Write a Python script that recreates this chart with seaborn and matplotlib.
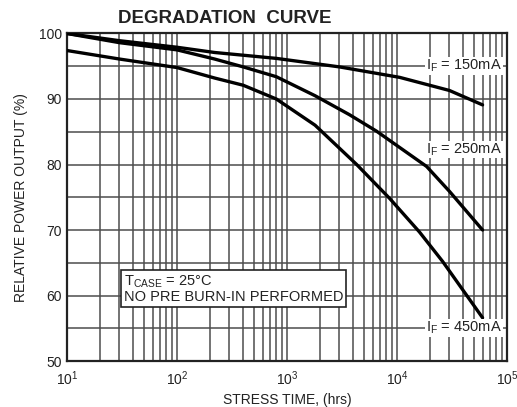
import numpy as np
import pandas as pd
import seaborn as sns
import matplotlib.pyplot as plt
from matplotlib.ticker import LogLocator, MultipleLocator, NullFormatter

# values (stress time in hrs, relative output in %)
hrs_150 = [10, 30, 100, 220, 800, 3000, 10600, 30000, 60000]
pct_150 = [100.0, 98.9, 97.9, 97.1, 96.2, 94.9, 93.3, 91.3, 89.1]

hrs_250 = [10, 30, 100, 220, 400, 800, 1800, 3700, 6500, 18600, 30000, 60000]
pct_250 = [100.0, 98.6, 97.5, 96.1, 94.9, 93.4, 90.5, 87.6, 85.1, 79.7, 75.9, 70.0]

hrs_450 = [10, 30, 100, 220, 400, 800, 1800, 4300, 8600, 16000, 26000, 60000]
pct_450 = [97.4, 96.1, 94.8, 93.2, 92.1, 90.0, 86.0, 80.0, 74.8, 69.7, 65.2, 56.6]

currents = ["150mA", "250mA", "450mA"]
label_y = [95, 82.3, 55]

df = pd.concat([
    pd.DataFrame({"hrs": hrs_150, "pct": pct_150, "IF": "150mA"}),
    pd.DataFrame({"hrs": hrs_250, "pct": pct_250, "IF": "250mA"}),
    pd.DataFrame({"hrs": hrs_450, "pct": pct_450, "IF": "450mA"}),
])

sns.set_style("white")
plt.rcParams['font.family'] = ['Liberation Sans', 'DejaVu Sans']
plt.rcParams['mathtext.fontset'] = 'custom'
plt.rcParams['mathtext.rm'] = 'Liberation Sans'
plt.rcParams['mathtext.it'] = 'Liberation Sans'

fig = plt.figure(figsize=(5.17, 4.07), dpi=100)
ax = fig.add_axes([0.1296, 0.113, 0.851, 0.8047])

sns.lineplot(data=df, x="hrs", y="pct", hue="IF", palette=["black"] * 3,
             linewidth=2.4, legend=False, ax=ax, zorder=3)

ax.set_xscale("log")
ax.set_xlim(10, 1e5)
ax.set_ylim(50, 100)
ax.xaxis.set_major_locator(LogLocator(base=10, numticks=10))
ax.xaxis.set_minor_locator(LogLocator(base=10, subs=np.arange(2, 10), numticks=20))
ax.xaxis.set_minor_formatter(NullFormatter())
ax.yaxis.set_major_locator(MultipleLocator(10))
ax.yaxis.set_minor_locator(MultipleLocator(5))
ax.grid(True, which="both", color="#4d4d4d", linewidth=1.1, zorder=0)
ax.tick_params(which="both", length=0, labelsize=10, colors="#222222")
ax.tick_params(axis="x", pad=6)
for s in ax.spines.values():
    s.set_color("#222222")
    s.set_linewidth(1.6)

ax.set_xlabel("STRESS TIME, (hrs)", fontsize=10, color="#222222", labelpad=4)
ax.set_ylabel("RELATIVE POWER OUTPUT (%)", fontsize=10, color="#222222", labelpad=8)

for cur, yv in zip(currents, label_y):
    ax.text(9.0e4, yv, r"I$_\mathrm{F}$ = " + cur, ha="right", va="center",
            fontsize=10.5, color="#222222", zorder=4,
            bbox=dict(facecolor="white", edgecolor="none", pad=0.5))

ax.text(33, 61.0, "T$_\\mathrm{CASE}$ = 25°C\nNO PRE BURN-IN PERFORMED",
        ha="left", va="center", fontsize=10.5, color="#222222", zorder=4,
        linespacing=1.0,
        bbox=dict(facecolor="white", edgecolor="#222222", linewidth=1.2, pad=2))

fig.text(0.228, 0.955, "DEGRADATION  CURVE", fontsize=13.5, fontweight="bold",
         color="#222222", ha="left", va="center")

fig.savefig("out.png", dpi=100)
